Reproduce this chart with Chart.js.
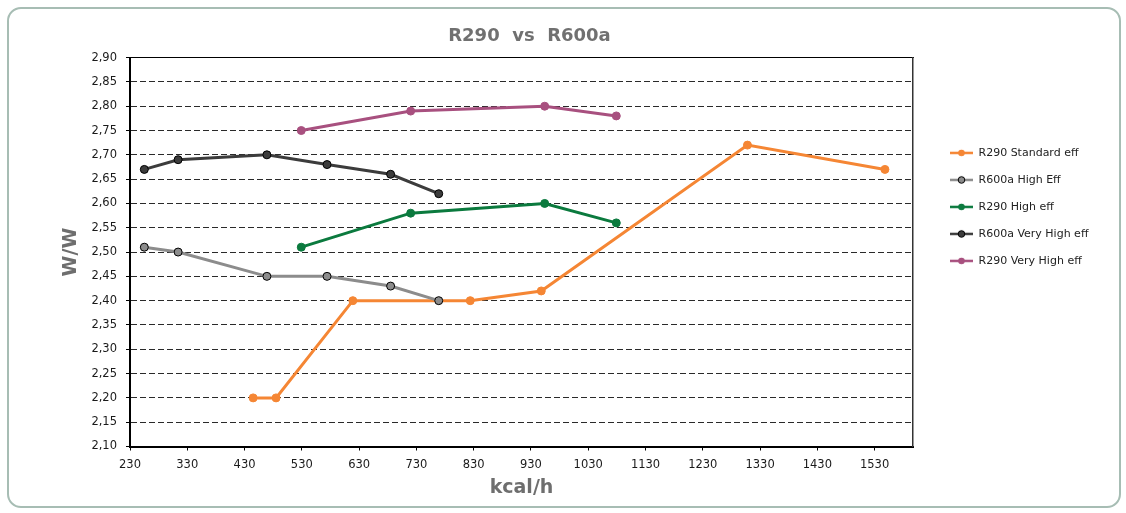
<!DOCTYPE html>
<html>
<head>
<meta charset="utf-8">
<script src="https://cdn.jsdelivr.net/npm/chart.js@4.4.1/dist/chart.umd.min.js"></script>
<style>
  html, body { margin: 0; padding: 0; background: #ffffff; }
  #wrap { position: relative; width: 1126px; height: 513px; overflow: hidden; }
  #frame { position: absolute; left: 7px; top: 7px; width: 1114px; height: 501px; box-sizing: border-box;
           border: 2px solid #a7bdb4; border-radius: 14px; pointer-events: none; }
  canvas { position: absolute; left: 0; top: 0; }
</style>
</head>
<body>
<div id="wrap">
  <canvas id="c" width="1126" height="513"></canvas>
  <div id="frame"></div>
</div>
<script>
// ---------- data ----------
const chartTitle = 'R290  vs  R600a';
const xAxisTitle = 'kcal/h';
const yAxisTitle = 'W/W';

const seriesNames = ['R290 Standard eff', 'R600a High Eff', 'R290 High eff', 'R600a Very High eff', 'R290 Very High eff'];

const r290StandardX = [445, 485, 619, 824, 948, 1308, 1548];
const r290StandardY = [2.20, 2.20, 2.40, 2.40, 2.42, 2.72, 2.67];

const r600aHighX = [255, 314, 469, 574, 685, 769];
const r600aHighY = [2.51, 2.50, 2.45, 2.45, 2.43, 2.40];

const r290HighX = [529, 720, 954, 1079];
const r290HighY = [2.51, 2.58, 2.60, 2.56];

const r600aVeryHighX = [255, 314, 469, 574, 685, 769];
const r600aVeryHighY = [2.67, 2.69, 2.70, 2.68, 2.66, 2.62];

const r290VeryHighX = [529, 720, 954, 1079];
const r290VeryHighY = [2.75, 2.79, 2.80, 2.78];

const xTickValues = [230, 330, 430, 530, 630, 730, 830, 930, 1030, 1130, 1230, 1330, 1430, 1530];
const yTickValues = [2.10, 2.15, 2.20, 2.25, 2.30, 2.35, 2.40, 2.45, 2.50, 2.55, 2.60, 2.65, 2.70, 2.75, 2.80, 2.85, 2.90];

// ---------- styles ----------
const lineColors   = ['#f58634', '#8c8c8c', '#0b7a3e', '#3c3c3c', '#a8507f'];
const markerFill   = ['#f58634', '#8c8c8c', '#0b7a3e', '#3c3c3c', '#a8507f'];
const markerBorder = ['#f58634', '#000000', '#0b7a3e', '#000000', '#a8507f'];

const seriesX = [r290StandardX, r600aHighX, r290HighX, r600aVeryHighX, r290VeryHighX];
const seriesY = [r290StandardY, r600aHighY, r290HighY, r600aVeryHighY, r290VeryHighY];

const FONT = "'DejaVu Sans', Verdana, sans-serif";
Chart.defaults.font.family = FONT;

function pairs(xs, ys) { return xs.map((x, i) => ({ x: x, y: ys[i] })); }

// legend marker images (line with circle)
const MARK_W = 44;
function legendMarker(i) {
  const c = document.createElement('canvas');
  c.width = MARK_W; c.height = 12;
  const g = c.getContext('2d');
  g.strokeStyle = lineColors[i];
  g.lineWidth = 2.5;
  g.beginPath(); g.moveTo(21, 6); g.lineTo(44, 6); g.stroke();
  g.beginPath(); g.arc(32.5, 6, 3.3, 0, Math.PI * 2);
  g.fillStyle = markerFill[i]; g.fill();
  if (markerBorder[i] !== markerFill[i]) { g.lineWidth = 1; g.strokeStyle = markerBorder[i]; g.stroke(); }
  return c;
}
const legendImages = seriesNames.map((_, i) => legendMarker(i));

// legend width (so the plot's right edge and the title centre land where wanted)
const LEG_FONT = 11, LEG_PAD = 16;
const mctx = document.createElement('canvas').getContext('2d');
mctx.font = LEG_FONT + 'px ' + FONT;
const maxText = Math.max(...seriesNames.map(n => mctx.measureText(n).width));
const legendWidth = LEG_PAD + MARK_W + LEG_FONT / 2 + maxText + 10;
const plotRight = 913, plotLeft = 130, titleCentre = 529.5;
const padRight = 1126 - plotRight - legendWidth;
const padLeft = 2 * titleCentre - 1126 + padRight;

const datasets = seriesNames.map((name, i) => ({
  label: name,
  data: pairs(seriesX[i], seriesY[i]),
  borderColor: lineColors[i],
  backgroundColor: markerFill[i],
  borderWidth: 3,
  pointRadius: 4,
  pointHoverRadius: 4,
  pointBackgroundColor: markerFill[i],
  pointBorderColor: markerBorder[i],
  pointBorderWidth: 1,
  tension: 0,
  fill: false,
  order: seriesNames.length - i
}));

new Chart(document.getElementById('c'), {
  type: 'line',
  data: { datasets: datasets },
  options: {
    responsive: false,
    animation: false,
    devicePixelRatio: 1,
    layout: { padding: { top: 10, bottom: 10, left: padLeft, right: padRight } },
    plugins: {
      tooltip: { enabled: false },
      title: {
        display: true,
        text: chartTitle,
        color: '#707070',
        font: { size: 18, weight: 'bold', family: FONT },
        padding: { top: 16, bottom: 10 }
      },
      legend: {
        display: true,
        position: 'right',
        align: 'start',
        fullSize: false,
        reverse: true,
        title: { display: true, text: '', padding: 0, font: { size: 10, lineHeight: 7.38 } },
        labels: {
          color: '#222222',
          font: { size: LEG_FONT, family: FONT },
          padding: LEG_PAD,
          usePointStyle: true,
          pointStyleWidth: MARK_W,
          generateLabels: function (chart) {
            const items = Chart.defaults.plugins.legend.labels.generateLabels(chart);
            items.forEach(it => { it.pointStyle = legendImages[it.datasetIndex]; });
            return items;
          }
        }
      }
    },
    scales: {
      x: {
        type: 'linear',
        position: 'bottom',
        min: 230,
        max: 1597,
        afterFit: s => { s.height = 56.5; },
        afterBuildTicks: s => { s.ticks = xTickValues.map(v => ({ value: v })); },
        ticks: { color: '#1a1a1a', font: { size: 11.5, family: FONT }, padding: 8, maxRotation: 0, autoSkip: false,
                 callback: v => String(v) },
        grid: { display: true, drawOnChartArea: false, drawTicks: true, tickLength: 4, tickColor: '#000000', tickWidth: 1 },
        border: { display: true, color: '#000000', width: 2 },
        title: { display: true, text: xAxisTitle, color: '#6e6e6e', font: { size: 19, weight: 'bold', family: FONT },
                 padding: { top: 0, bottom: 4 } }
      },
      x2: {
        type: 'linear',
        position: 'top',
        min: 230,
        max: 1597,
        afterFit: s => { s.height = 0; },
        ticks: { display: false },
        grid: { display: false, drawTicks: false },
        border: { display: true, color: '#000000', width: 1 }
      },
      y: {
        type: 'linear',
        position: 'left',
        min: 2.10,
        max: 2.90,
        afterFit: s => { s.width = plotLeft - padLeft; },
        afterBuildTicks: s => { s.ticks = yTickValues.map(v => ({ value: v })); },
        ticks: { color: '#1a1a1a', font: { size: 11.5, family: FONT }, padding: 9, autoSkip: false,
                 callback: v => Number(v).toFixed(2).replace('.', ',') },
        grid: { display: true, drawOnChartArea: true, drawTicks: true, tickLength: 4, color: '#2a2a2a', lineWidth: 1,
                tickColor: '#000000', tickWidth: 1 },
        border: { display: true, color: '#000000', width: 2, dash: [6, 3] },
        title: { display: true, text: yAxisTitle, color: '#6e6e6e', font: { size: 19, weight: 'bold', family: FONT },
                 padding: { top: 70.7 - padLeft - 11.4, bottom: 0 } }
      },
      y2: {
        type: 'linear',
        position: 'right',
        min: 2.10,
        max: 2.90,
        afterFit: s => { s.width = 0; },
        ticks: { display: false },
        grid: { display: false, drawTicks: false },
        border: { display: true, color: '#333333', width: 1.5 }
      }
    }
  }
});
</script>
</body>
</html>
